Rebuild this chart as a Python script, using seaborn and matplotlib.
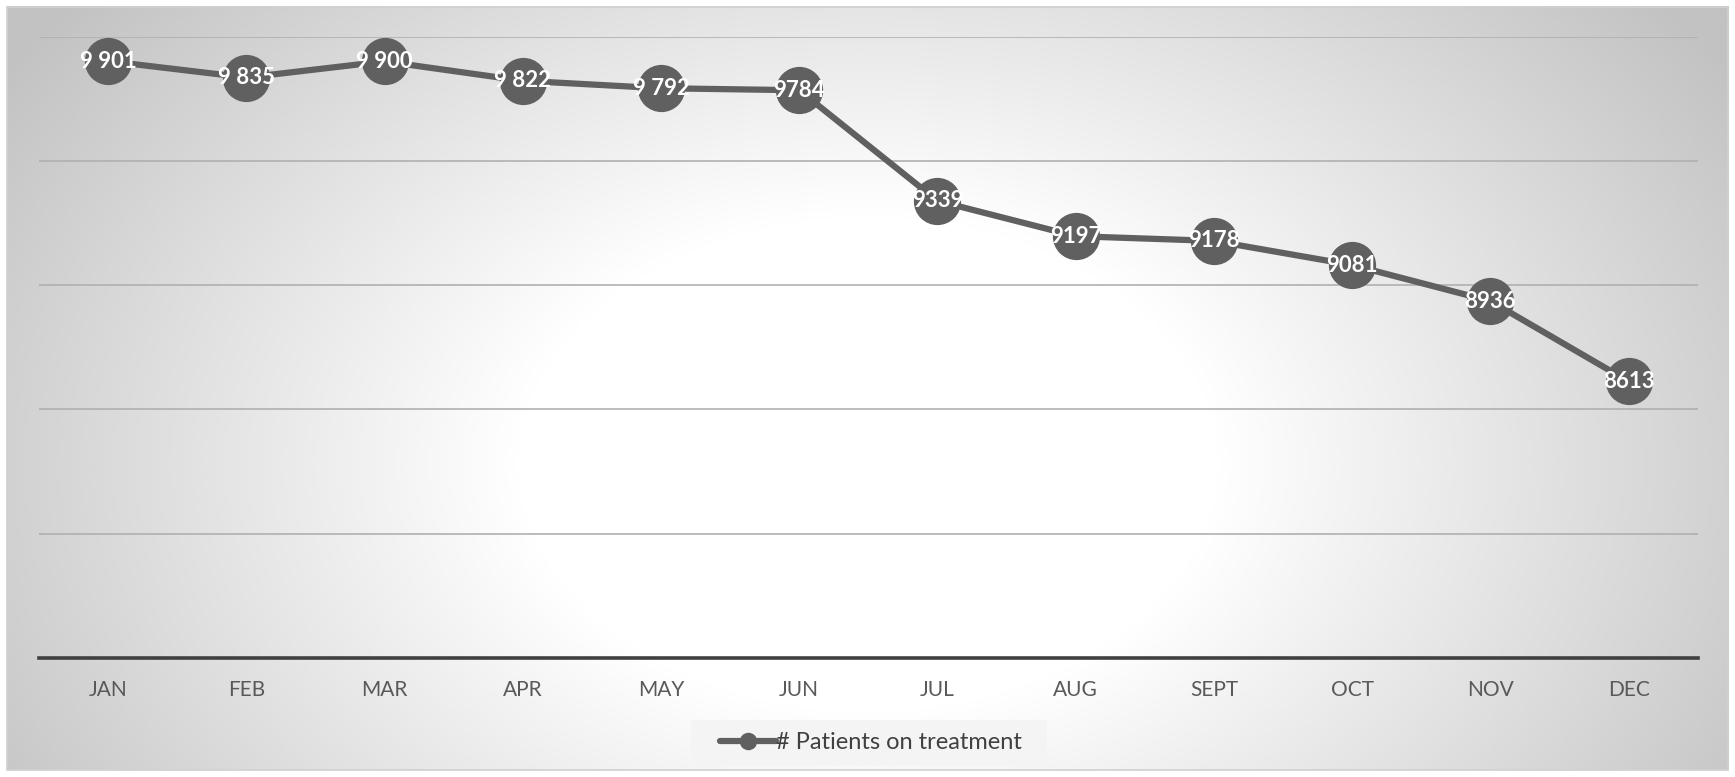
"""
Monthly count of patients on treatment, Excel-style line chart with data labels.
"""
import numpy as np
import pandas as pd
import matplotlib
matplotlib.use("Agg")
import matplotlib.pyplot as plt
import seaborn as sns

months = ["JAN", "FEB", "MAR", "APR", "MAY", "JUN",
          "JUL", "AUG", "SEPT", "OCT", "NOV", "DEC"]
patients = [9901, 9835, 9900, 9822, 9792, 9784,
            9339, 9197, 9178, 9081, 8936, 8613]
point_labels = ["9 901", "9 835", "9 900", "9 822", "9 792", "9784",
                "9339", "9197", "9178", "9081", "8936", "8613"]
series_name = "# Patients on treatment"
y_ticks = [7500, 8000, 8500, 9000, 9500, 10000]

LINE_COLOR = "#606060"
TEXT_COLOR = "#595959"

sns.set_theme(style="white")
plt.rcParams["font.family"] = ["Lato", "DejaVu Sans"]

df = pd.DataFrame({"month": months, "patients": patients})
df["x"] = np.arange(len(months))

fig = plt.figure(figsize=(17.35, 7.77), dpi=100)

# ─── Background: white margin + radial grey gradient panel ───────────────
bg = fig.add_axes([0, 0, 1, 1], zorder=-10)
bg.set_xlim(0, 1)
bg.set_ylim(0, 1)
bg.axis("off")
gx, gy = np.meshgrid(np.linspace(0, 1, 600), np.linspace(0, 1, 300))
r = np.sqrt(((gx - 0.5) / 0.5) ** 2 + ((gy - 0.4) / 0.8) ** 2)
shade = 1.0 - 0.3 * np.clip(r - 0.4, 0, 0.8)
bg.imshow(shade, cmap="gray", vmin=0, vmax=1, extent=[0.004, 0.996, 0.009, 0.991],
          aspect="auto", origin="lower", interpolation="bicubic")
bg.add_patch(plt.Rectangle((0.004, 0.009), 0.992, 0.982, fill=False,
                           edgecolor="#d0d0d0", linewidth=1.2))
# legend box backdrop
bg.add_patch(plt.Rectangle((0.398, 0.0142), 0.2055, 0.0592, facecolor="#f4f4f4",
                           edgecolor="none", zorder=2))

# ─── Main chart ──────────────────────────────────────────────────────────
ax = fig.add_axes([0.0225, 0.153, 0.956, 0.800])
ax.patch.set_alpha(0)

sns.lineplot(data=df, x="x", y="patients", ax=ax, color=LINE_COLOR,
             linewidth=4.5, marker="o", markersize=34,
             markeredgewidth=0, label=series_name, zorder=3)

for xi, yi, lab in zip(df["x"], df["patients"], point_labels):
    ax.text(xi, yi, lab, ha="center", va="center", color="white",
            fontsize=16, fontweight="bold", zorder=4)

ax.set_xlim(-0.5, len(months) - 0.5)
ax.set_ylim(y_ticks[0], y_ticks[-1])
ax.set_yticks(y_ticks)
ax.yaxis.grid(True, color="#b0b0b0", linewidth=1.2)
ax.set_yticklabels([])
ax.tick_params(axis="y", length=0)
ax.set_xticks(df["x"])
ax.set_xticklabels(months, color=TEXT_COLOR, fontsize=15)
ax.tick_params(axis="x", length=0, pad=16)
ax.set_xlabel("")
ax.set_ylabel("")

for side in ["top", "left", "right"]:
    ax.spines[side].set_visible(False)
ax.spines["bottom"].set_color("#404040")
ax.spines["bottom"].set_linewidth(2.6)

leg = ax.legend(loc="center", bbox_to_anchor=(0.502, 0.0445),
                bbox_transform=fig.transFigure, frameon=False,
                fontsize=17, markerscale=0.37, handlelength=2.4,
                handletextpad=0.0, borderpad=0.3)
for t in leg.get_texts():
    t.set_color("#404040")

fig.savefig("out.png", dpi=100)
